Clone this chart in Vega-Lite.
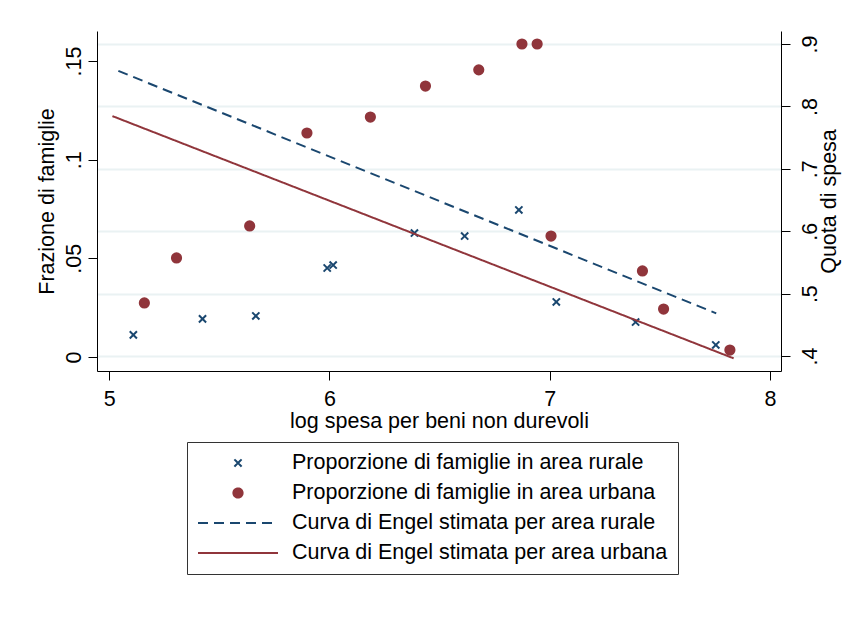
{
  "$schema": "https://vega.github.io/schema/vega-lite/v6.json",
  "width": 684,
  "height": 340,
  "autosize": {"type": "none"},
  "padding": {"left": 97, "top": 31, "right": 71, "bottom": 253},
  "background": "white",
  "config": {
    "font": "Liberation Sans",
    "view": {"stroke": null},
    "axis": {
      "labelFont": "Liberation Sans",
      "titleFont": "Liberation Sans",
      "labelFontSize": 21.5,
      "titleFontSize": 21.5,
      "titleFontWeight": "normal",
      "labelColor": "#000000",
      "titleColor": "#000000",
      "domainColor": "#000000",
      "tickColor": "#000000",
      "tickSize": 9,
      "domainWidth": 1,
      "tickWidth": 1,
      "grid": false
    },
    "legend": {
      "labelFont": "Liberation Sans",
      "labelFontSize": 21.5,
      "labelColor": "#000000",
      "labelLimit": 0,
      "labelOffset": 43,
      "symbolOffset": 30,
      "padding": 10,
      "rowPadding": 8,
      "symbolSize": 400,
      "symbolStrokeWidth": 2,
      "strokeColor": "#333333",
      "direction": "vertical"
    }
  },
  "datasets": {
    "punti": [
      {"serie": "Proporzione di famiglie in area rurale", "x": 5.11, "frazione": 0.0112},
      {"serie": "Proporzione di famiglie in area rurale", "x": 5.424, "frazione": 0.0193},
      {"serie": "Proporzione di famiglie in area rurale", "x": 5.666, "frazione": 0.0208},
      {"serie": "Proporzione di famiglie in area rurale", "x": 5.99, "frazione": 0.0451},
      {"serie": "Proporzione di famiglie in area rurale", "x": 6.017, "frazione": 0.0466},
      {"serie": "Proporzione di famiglie in area rurale", "x": 6.386, "frazione": 0.0628},
      {"serie": "Proporzione di famiglie in area rurale", "x": 6.614, "frazione": 0.0613},
      {"serie": "Proporzione di famiglie in area rurale", "x": 6.86, "frazione": 0.0745},
      {"serie": "Proporzione di famiglie in area rurale", "x": 7.03, "frazione": 0.0279},
      {"serie": "Proporzione di famiglie in area rurale", "x": 7.39, "frazione": 0.0177},
      {"serie": "Proporzione di famiglie in area rurale", "x": 7.754, "frazione": 0.0061},
      {"serie": "Proporzione di famiglie in area urbana", "x": 5.16, "frazione": 0.0274},
      {"serie": "Proporzione di famiglie in area urbana", "x": 5.306, "frazione": 0.0502},
      {"serie": "Proporzione di famiglie in area urbana", "x": 5.638, "frazione": 0.0664},
      {"serie": "Proporzione di famiglie in area urbana", "x": 5.898, "frazione": 0.1135},
      {"serie": "Proporzione di famiglie in area urbana", "x": 6.186, "frazione": 0.1216},
      {"serie": "Proporzione di famiglie in area urbana", "x": 6.436, "frazione": 0.1373},
      {"serie": "Proporzione di famiglie in area urbana", "x": 6.678, "frazione": 0.1455},
      {"serie": "Proporzione di famiglie in area urbana", "x": 6.874, "frazione": 0.1586},
      {"serie": "Proporzione di famiglie in area urbana", "x": 6.943, "frazione": 0.1586},
      {"serie": "Proporzione di famiglie in area urbana", "x": 7.006, "frazione": 0.0613},
      {"serie": "Proporzione di famiglie in area urbana", "x": 7.421, "frazione": 0.0436},
      {"serie": "Proporzione di famiglie in area urbana", "x": 7.517, "frazione": 0.0243},
      {"serie": "Proporzione di famiglie in area urbana", "x": 7.818, "frazione": 0.0035}
    ],
    "curve": [
      {"serie": "Curva di Engel stimata per area rurale", "x": 5.042, "quota": 0.857},
      {"serie": "Curva di Engel stimata per area rurale", "x": 7.756, "quota": 0.4684},
      {"serie": "Curva di Engel stimata per area urbana", "x": 5.015, "quota": 0.7846},
      {"serie": "Curva di Engel stimata per area urbana", "x": 7.835, "quota": 0.3963}
    ]
  },
  "layer": [
    {
      "data": {"name": "punti"},
      "mark": {"type": "point", "filled": true, "size": 400, "strokeWidth": 2, "opacity": 1},
      "encoding": {
        "x": {
          "field": "x", "type": "quantitative",
          "scale": {"domain": [4.945, 8.05], "nice": false, "zero": false},
          "axis": {"values": [5, 6, 7, 8], "format": ".0f", "title": "log spesa per beni non durevoli", "labelPadding": 8, "titlePadding": 1, "labelFlush": false}
        },
        "y": {
          "field": "frazione", "type": "quantitative",
          "scale": {"domain": [-0.0071, 0.1652], "nice": false, "zero": false},
          "axis": {"orient": "left", "values": [0, 0.05, 0.1, 0.15], "format": ".2~f",
            "labelExpr": "datum.value == 0 ? '0' : slice(datum.label, 1)",
            "labelAngle": -90, "labelAlign": "center", "labelBaseline": "bottom",
            "labelPadding": 3, "title": "Frazione di famiglie", "titlePadding": 5}
        },
        "fill": {
          "field": "serie", "type": "nominal",
          "scale": {
            "domain": ["Proporzione di famiglie in area rurale", "Proporzione di famiglie in area urbana", "Curva di Engel stimata per area rurale", "Curva di Engel stimata per area urbana"],
            "range": ["transparent", "#90353b", "transparent", "transparent"]
          },
          "legend": {"title": null, "orient": "none", "legendX": 90, "legendY": 411}
        },
        "stroke": {
          "field": "serie", "type": "nominal",
          "scale": {
            "domain": ["Proporzione di famiglie in area rurale", "Proporzione di famiglie in area urbana", "Curva di Engel stimata per area rurale", "Curva di Engel stimata per area urbana"],
            "range": ["#1a476f", "#90353b", "#1a476f", "#90353b"]
          },
          "legend": {"title": null, "orient": "none", "legendX": 90, "legendY": 411}
        },
        "shape": {
          "field": "serie", "type": "nominal",
          "scale": {
            "domain": ["Proporzione di famiglie in area rurale", "Proporzione di famiglie in area urbana", "Curva di Engel stimata per area rurale", "Curva di Engel stimata per area urbana"],
            "range": ["M-0.36,-0.36L0.36,0.36M0.36,-0.36L-0.36,0.36", "M-0.46,0A0.46,0.46,0,1,0,0.46,0A0.46,0.46,0,1,0,-0.46,0Z", "M-4,0H4", "M-4,0H4"]
          },
          "legend": {"title": null, "orient": "none", "legendX": 90, "legendY": 411}
        }
      }
    },
    {
      "data": {"name": "curve"},
      "mark": {"type": "line", "strokeWidth": 2},
      "encoding": {
        "x": {"field": "x", "type": "quantitative"},
        "y": {
          "field": "quota", "type": "quantitative",
          "scale": {"domain": [0.376, 0.921], "nice": false, "zero": false},
          "axis": {"orient": "right", "values": [0.4, 0.5, 0.6, 0.7, 0.8, 0.9], "format": ".1f",
            "labelExpr": "slice(datum.label, 1)",
            "labelAngle": -90, "labelAlign": "center", "labelBaseline": "top",
            "labelPadding": 9, "title": "Quota di spesa", "titleAngle": 270, "titleBaseline": "top", "titlePadding": -2,
            "grid": true, "gridColor": "#eaf2f3", "gridWidth": 2}
        },
        "stroke": {
          "field": "serie", "type": "nominal",
          "scale": {
            "domain": ["Proporzione di famiglie in area rurale", "Proporzione di famiglie in area urbana", "Curva di Engel stimata per area rurale", "Curva di Engel stimata per area urbana"],
            "range": ["#1a476f", "#90353b", "#1a476f", "#90353b"]
          },
          "legend": {"title": null, "orient": "none", "legendX": 90, "legendY": 411}
        },
        "strokeDash": {
          "field": "serie", "type": "nominal",
          "scale": {
            "domain": ["Proporzione di famiglie in area rurale", "Proporzione di famiglie in area urbana", "Curva di Engel stimata per area rurale", "Curva di Engel stimata per area urbana"],
            "range": [[1, 0], [1, 0], [10, 6], [1, 0]]
          },
          "legend": {"title": null, "orient": "none", "legendX": 90, "legendY": 411}
        }
      }
    }
  ],
  "resolve": {"scale": {"y": "independent"}, "axis": {"y": "independent"}}
}
